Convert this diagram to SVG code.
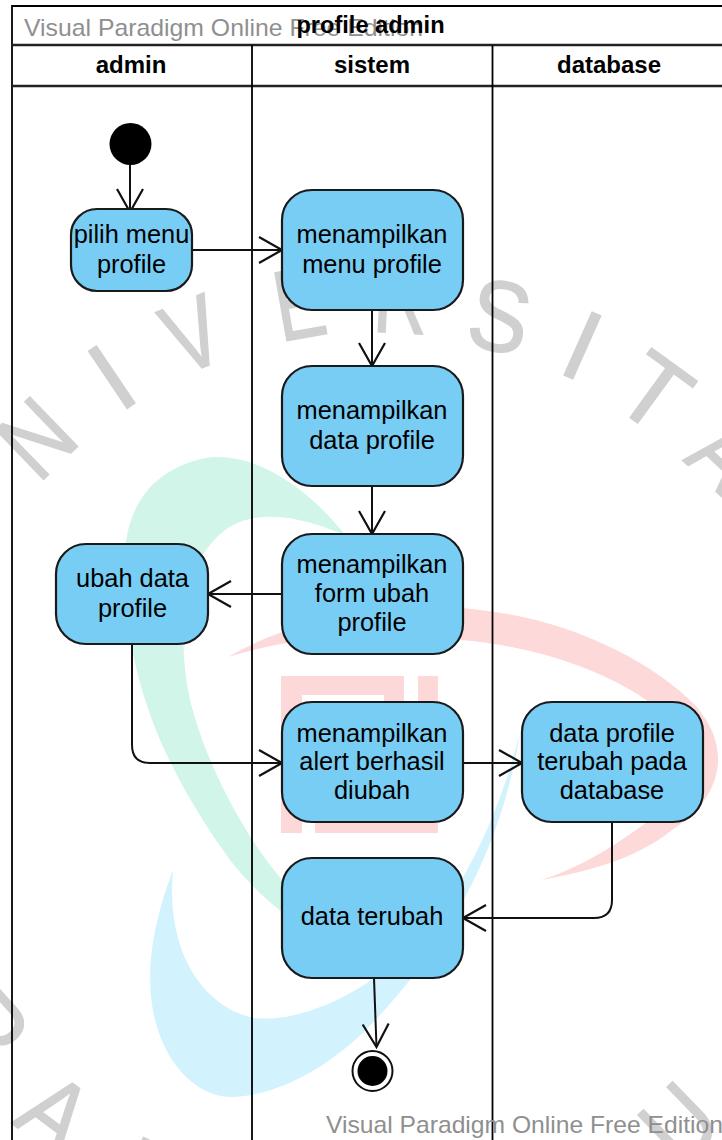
<svg xmlns="http://www.w3.org/2000/svg" width="722" height="1140" viewBox="0 0 722 1140">
<style>
.wm{font:100px "Liberation Sans",Arial,sans-serif;fill:#d0d0d0;stroke:#d0d0d0;stroke-width:1.5;text-anchor:middle}
.lane{fill:none;stroke:#000;stroke-width:1.8}
.hd{stroke:#222;stroke-width:2.4;fill:none}
.h{font:bold 24px "Liberation Sans",Arial,sans-serif;fill:#000;text-anchor:middle}
.title{font:bold 23.6px "Liberation Sans",Arial,sans-serif;fill:#000;text-anchor:middle}
.free{font:24px "Liberation Sans",Arial,sans-serif;fill:#8f8f8f}
.box{fill:#78cdf4;stroke:#1a1a1a;stroke-width:2.2}
.t{font:25.4px "Liberation Sans",Arial,sans-serif;fill:#000;text-anchor:middle}
.c{fill:none;stroke:#111;stroke-width:2}
</style>
<defs>
<marker id="open" markerUnits="userSpaceOnUse" markerWidth="32" markerHeight="32" refX="28" refY="15" orient="auto" viewBox="0 0 32 32"><path d="M5 2L28 15L5 28" fill="none" stroke="#111" stroke-width="2.2"/></marker>
</defs>
<rect width="722" height="1140" fill="#fff"/>
<g id="watermark-letters">
<text class="wm" transform="translate(35.500 437) rotate(-44) scale(.85 1)" y="36">N</text>
<text class="wm" transform="translate(111 376) rotate(-34)" y="36">I</text>
<text class="wm" transform="translate(192 333) rotate(-22) scale(.8 1)" y="36">V</text>
<text class="wm" transform="translate(299 302) rotate(-10) scale(.75 1)" y="36">E</text>
<text class="wm" transform="translate(401 297) rotate(3) scale(.75 1)" y="36">R</text>
<text class="wm" transform="translate(500 315) rotate(12) scale(.9 1)" y="36">S</text>
<text class="wm" transform="translate(583 344) rotate(24)" y="36">I</text>
<text class="wm" transform="translate(655 391) rotate(36)" y="36">T</text>
<text class="wm" transform="translate(726.500 452) rotate(43) scale(.8 1)" y="36">A</text>
<text class="wm" transform="translate(-10 1028) rotate(48) scale(.9 1)" y="36">P</text>
<text class="wm" transform="translate(56 1112) rotate(37) scale(.88 1)" y="36">A</text>
<text class="wm" transform="translate(151 1177) rotate(25) scale(.85 1)" y="36">N</text>
<text class="wm" transform="translate(678 1122) rotate(-44) scale(.85 1)" y="36">U</text>
</g>
<g id="logo">
<path fill="#d1f5e8" d="M205 458C150 470 122 510 125 570C125 680 165 770 230 860C250 885 270 905 300 925L282 880C240 830 205 760 190 700C175 630 185 560 225 530C260 505 310 520 345 535C310 490 255 450 205 458Z"/>
<path fill="#fdd9d9" d="M228 657C310 610 410 600 480 610C570 620 650 660 695 705C735 750 720 800 672 830C635 860 585 872 541 880C590 865 640 830 680 795C705 770 700 740 660 710C610 670 530 645 460 640C380 630 300 635 228 657Z"/>
<path fill="#d2f3fd" d="M173 870C150 930 145 980 155 1020C168 1070 200 1097 232 1097C285 1095 340 1060 380 1015C440 950 500 860 520 733C495 830 450 920 385 970C340 1005 290 1022 255 1018C210 1010 165 960 173 870Z"/>
<path fill="#fdd8d8" d="M281 676H404V815H438V833H315V800H384V695H302V833H281ZM418 676H438V815H418Z"/>
</g>
<g id="swimlanes">
<path class="lane" d="M12 1140V6H722"/>
<path class="hd" d="M12 45H722M12 86H722"/>
<path class="lane" d="M252 45V1140M492.500 45V1140"/>
<text class="free" x="24" y="36" textLength="399" lengthAdjust="spacingAndGlyphs">Visual Paradigm Online Free Edition</text>
<text class="title" x="370.500" y="33">profile admin</text>
<text class="h" x="131" y="73">admin</text>
<text class="h" x="372" y="73">sistem</text>
<text class="h" x="609" y="73">database</text>
</g>
<g id="connectors">
<path class="c" marker-end="url(#open)" d="M130 165V212"/>
<path class="c" marker-end="url(#open)" d="M192 250H282"/>
<path class="c" marker-end="url(#open)" d="M372 310V366"/>
<path class="c" marker-end="url(#open)" d="M372 486V534"/>
<path class="c" marker-end="url(#open)" d="M282 594H208"/>
<path class="c" marker-end="url(#open)" d="M132 644V745Q132 763 150 763H282"/>
<path class="c" marker-end="url(#open)" d="M463 763H522"/>
<path class="c" marker-end="url(#open)" d="M612 822V900Q612 918 594 918H463"/>
<path class="c" marker-end="url(#open)" d="M374 978L376.500 1047"/>
</g>
<g id="start"><circle cx="130.500" cy="144" r="21" fill="#000"/></g>
<g id="pilih-menu"><rect class="box" x="71" y="209" width="121" height="82" rx="26"/><text class="t" x="131.500" y="243">pilih menu</text><text class="t" x="131.500" y="273">profile</text></g>
<g id="menampilkan-menu"><rect class="box" x="282" y="190" width="181" height="120" rx="30"/><text class="t" x="372" y="243">menampilkan</text><text class="t" x="372" y="273">menu profile</text></g>
<g id="menampilkan-data"><rect class="box" x="282" y="366" width="181" height="120" rx="30"/><text class="t" x="372" y="419">menampilkan</text><text class="t" x="372" y="449">data profile</text></g>
<g id="menampilkan-form"><rect class="box" x="282" y="534" width="181" height="120" rx="30"/><text class="t" x="372" y="573">menampilkan</text><text class="t" x="372" y="602">form ubah</text><text class="t" x="372" y="631">profile</text></g>
<g id="ubah-data"><rect class="box" x="56" y="544" width="152" height="100" rx="30"/><text class="t" x="132.500" y="587">ubah data</text><text class="t" x="132.500" y="617">profile</text></g>
<g id="menampilkan-alert"><rect class="box" x="282" y="702" width="181" height="120" rx="30"/><text class="t" x="372" y="742">menampilkan</text><text class="t" x="372" y="770">alert berhasil</text><text class="t" x="372" y="799">diubah</text></g>
<g id="data-profile-db"><rect class="box" x="522" y="702" width="181" height="120" rx="30"/><text class="t" x="612" y="742">data profile</text><text class="t" x="612" y="770">terubah pada</text><text class="t" x="612" y="799">database</text></g>
<g id="data-terubah"><rect class="box" x="282" y="858" width="181" height="120" rx="30"/><text class="t" x="372" y="925">data terubah</text></g>
<g id="end"><circle cx="372.500" cy="1071" r="20" fill="#fff" stroke="#111" stroke-width="2"/><circle cx="372.500" cy="1071" r="15" fill="#000"/></g>
<text class="free" x="326" y="1133" textLength="397" lengthAdjust="spacingAndGlyphs">Visual Paradigm Online Free Edition</text>
</svg>
